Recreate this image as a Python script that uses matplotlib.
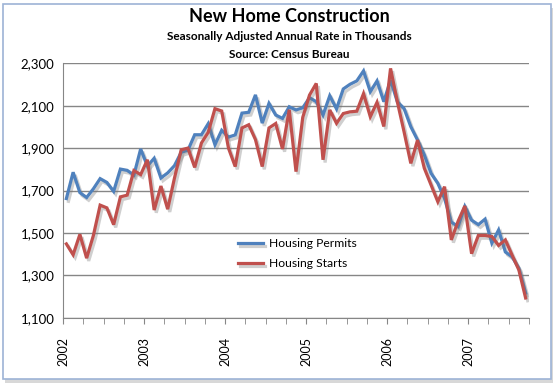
import numpy as np
import matplotlib.pyplot as plt
import matplotlib.patheffects as pe
from matplotlib.patches import Rectangle

plt.rcParams['font.family'] = ['Lato', 'DejaVu Sans']

# monthly values, Jan 2002 - Sep 2007 (thousands, SAAR)
year_labels = ['2002', '2003', '2004', '2005', '2006', '2007']
permits = [1662, 1786, 1690, 1667, 1708, 1756, 1738, 1696, 1801, 1795, 1773, 1896,
           1815, 1852, 1759, 1783, 1817, 1880, 1890, 1963, 1963, 2015, 1916, 1984,
           1952, 1962, 2065, 2069, 2151, 2018, 2111, 2056, 2040, 2095, 2080, 2090,
           2138, 2119, 2056, 2147, 2085, 2179, 2201, 2217, 2264, 2166, 2217, 2119,
           2221, 2119, 2087, 2001, 1938, 1868, 1781, 1734, 1662, 1551, 1530, 1625,
           1560, 1539, 1565, 1452, 1514, 1410, 1387, 1333, 1216]
starts = [1448, 1397, 1493, 1381, 1488, 1631, 1618, 1539, 1670, 1678, 1794, 1775,
          1845, 1608, 1721, 1612, 1758, 1892, 1900, 1809, 1924, 1974, 2086, 2075,
          1900, 1813, 1995, 2010, 1940, 1813, 1995, 2016, 1896, 2081, 1789, 2045,
          2150, 2205, 1845, 2080, 2017, 2063, 2071, 2074, 2157, 2048, 2116, 2002,
          2276, 2119, 1977, 1828, 1938, 1805, 1726, 1647, 1718, 1467, 1555, 1627,
          1402, 1488, 1488, 1483, 1441, 1467, 1395, 1325, 1193]
y_ticks = [1100, 1300, 1500, 1700, 1900, 2100, 2300]

W, H = 557, 385
fig = plt.figure(figsize=(W / 100, H / 100), dpi=100)

# chart frame with a soft shadow
fig.patches.append(Rectangle((5 / W, 2 / H), 548 / W, 375 / H, transform=fig.transFigure,
                             fc='#d8d8d8', ec='none', zorder=-2))
fig.patches.append(Rectangle((3 / W, 6 / H), 548 / W, 375 / H, transform=fig.transFigure,
                             fc='white', ec='#9db3d6', lw=1.2, zorder=-1))

ax = fig.add_axes([63 / W, 1 - 317.7 / H, 466 / W, 254.4 / H])
x = np.arange(len(permits))

shadow = [pe.SimpleLineShadow(offset=(1.5, -2), shadow_color='#777777', alpha=0.35),
          pe.Normal()]
ax.plot(x, permits, color='#4f81bd', lw=2.3, label='Housing Permits',
        path_effects=shadow, solid_joinstyle='miter')
ax.plot(x, starts, color='#c0504d', lw=2.3, label='Housing Starts',
        path_effects=shadow, solid_joinstyle='miter')

ax.set_xlim(-0.5, len(permits) - 0.5)
ax.set_ylim(1100, 2300)
ax.set_yticks(y_ticks)
ax.set_yticklabels([f'{v:,}' for v in y_ticks], fontsize=9.5)
ax.tick_params(axis='y', length=0, pad=6)

ax.set_xticks(np.arange(-0.5, len(permits), 3), minor=True)
ax.set_xticks(np.arange(-0.5, len(permits), 12))
ax.set_xticklabels(year_labels, rotation=90, fontsize=9)
ax.tick_params(axis='x', which='both', length=4, color='#868686', direction='out')
ax.tick_params(axis='x', which='major', pad=10)

ax.grid(axis='y', color='#868686', lw=1)
ax.set_axisbelow(True)
for s in ['top', 'right']:
    ax.spines[s].set_visible(False)
for s in ['left', 'bottom']:
    ax.spines[s].set_color('#868686')

ax.legend(loc='upper left', bbox_to_anchor=(0.352, 0.355), frameon=False, fontsize=8.7,
          handlelength=2.1, handletextpad=0.45, labelspacing=0.72)

fig.text(289 / W, 1 - 17 / H, 'New Home Construction', ha='center', va='center',
         fontsize=13, fontweight='bold')
fig.text(289 / W, 1 - 36 / H, 'Seasonally Adjusted Annual Rate in Thousands',
         ha='center', va='center', fontsize=8.5, fontweight='bold')
fig.text(289 / W, 1 - 54 / H, 'Source: Census Bureau', ha='center', va='center',
         fontsize=8.5, fontweight='bold')

fig.savefig('out.png', dpi=100)
